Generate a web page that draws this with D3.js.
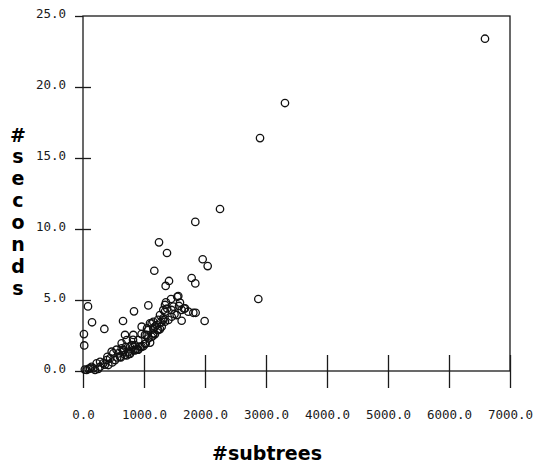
<!DOCTYPE html>
<html>
<head>
<meta charset="utf-8">
<script src="https://cdn.jsdelivr.net/npm/d3@7"></script>
<style>
  html, body { margin: 0; padding: 0; background: #fff; }
  svg { display: block; }
</style>
</head>
<body>
<script>
// x values (#subtrees) and y values (#seconds)
const subtrees = [
  6590, 3311, 2902, 2874, 2246, 1841, 1246, 1377, 1962, 2044, 1169, 1781, 1841, 1410, 1355,
  1994, 656, 836, 1071, 82, 148, 350, 1360, 20, 15,
  1546, 1443, 1562, 1590, 1481, 1344, 1574, 1656, 1672, 1617, 1726, 1536, 1454, 1344, 1317,
  1809, 1847, 1617, 1317, 1344, 1262, 1290, 1317, 1262, 1153, 1208, 1126, 1180, 1235, 1153,
  1098, 962, 1153, 1071, 1044, 1180, 1126, 1016, 1071, 989, 907, 852, 934, 1016, 960,
  825, 825, 825, 743, 770, 689, 716, 634, 661, 661, 852, 579, 607, 497, 443,
  525, 388, 333, 415, 279, 224, 170, 115, 60, 197, 470, 634, 689, 716, 770,
  798, 852, 905, 880, 280, 30, 90, 140, 250, 360, 560,
  400, 480, 550, 620, 700, 750, 820, 900, 960, 1030, 1100, 1150, 1220, 1270, 1400,
  1450, 1500, 1380, 1230, 1050
];
const seconds = [
  23.4, 18.87, 16.4, 5.07, 11.41, 10.5, 9.06, 8.31, 7.87, 7.39, 7.06, 6.55, 6.17, 6.34, 5.99,
  3.52, 3.52, 4.2, 4.62, 4.55, 3.43, 2.96, 4.84, 1.8, 2.6,
  5.23, 5.07, 5.28, 4.81, 4.53, 4.65, 4.58, 4.39, 4.41, 4.3, 4.18, 3.94, 3.82, 4.18, 4.3,
  4.1, 4.1, 3.54, 3.71, 3.47, 3.94, 3.12, 3.59, 2.95, 3.47, 3.24, 3.36, 3.12, 2.89, 3.0,
  3.36, 3.12, 2.65, 2.89, 2.54, 2.6, 2.4, 2.54, 2.3, 1.75, 2.18, 1.83, 1.71, 1.9, 1.7,
  2.54, 1.71, 1.48, 1.36, 1.71, 2.54, 2.18, 1.95, 1.48, 1.36, 1.45, 1.24, 1.0, 1.24, 0.89,
  0.77, 0.77, 0.54, 0.42, 0.3, 0.54, 0.19, 0.19, 0.07, 0.07, 1.36, 1.6, 1.13, 1.1, 1.2,
  1.83, 1.48, 1.5, 1.5, 0.65, 0.1, 0.15, 0.3, 0.15, 0.45, 0.95,
  1.0, 0.6, 1.5, 0.95, 1.7, 1.2, 2.2, 1.5, 2.6, 1.95, 2.0, 2.5, 2.9, 3.4, 3.6,
  4.3, 4.0, 4.4, 3.6, 3.0
];
const xTicks = [0, 1000, 2000, 3000, 4000, 5000, 6000, 7000];
const yTicks = [0, 5, 10, 15, 20, 25];
const xTitle = "#subtrees";
const yTitle = "#seconds";

const points = subtrees.map((v, i) => ({ x: v, y: seconds[i] }));

const width = 535;
const height = 468;
const plotLeft = 83, plotRight = 510, plotTop = 16, plotBottom = 371;
const ink = "#1a1a1a";
const tickFont = "'DejaVu Sans Mono', monospace";
const titleFont = "'DejaVu Sans', sans-serif";

const svg = d3.select("body")
    .append("svg")
    .attr("width", width)
    .attr("height", height);

svg.append("rect")
    .attr("width", width)
    .attr("height", height)
    .attr("fill", "#fff");

const x = d3.scaleLinear().domain([0, 7000]).range([plotLeft, plotRight]);
const y = d3.scaleLinear().domain([0, 25]).range([plotBottom, plotTop]);

// frame
svg.append("rect")
    .attr("x", plotLeft)
    .attr("y", plotTop)
    .attr("width", plotRight - plotLeft)
    .attr("height", plotBottom - plotTop)
    .attr("fill", "none")
    .attr("stroke", ink)
    .attr("stroke-width", 1.3);

// x axis: ticks go below, plus short stubs above
const xAxis = svg.append("g")
    .attr("transform", `translate(0,${plotBottom})`)
    .call(d3.axisBottom(x).tickValues(xTicks).tickSize(17).tickFormat(d3.format(".1f")));
svg.append("g")
    .attr("transform", `translate(0,${plotBottom})`)
    .call(d3.axisTop(x).tickValues(xTicks.slice(1)).tickSize(16).tickFormat(""));

// y axis: ticks cross the left line
const yAxis = svg.append("g")
    .attr("transform", `translate(${plotLeft},0)`)
    .call(d3.axisLeft(y).tickValues(yTicks).tickSize(8).tickFormat(d3.format(".1f")));
svg.append("g")
    .attr("transform", `translate(${plotLeft},0)`)
    .call(d3.axisRight(y).tickValues(yTicks.slice(1, -1)).tickSize(8).tickFormat(""));

svg.selectAll(".domain").remove();
svg.selectAll(".tick line").attr("stroke", ink).attr("stroke-width", 1.3);

xAxis.selectAll("text")
    .attr("y", 48)
    .attr("dy", null)
    .attr("fill", ink)
    .style("font-family", tickFont)
    .style("font-size", "12.5px");

yAxis.selectAll("text")
    .attr("x", -17)
    .attr("y", 1)
    .attr("dy", null)
    .attr("fill", ink)
    .style("font-family", tickFont)
    .style("font-size", "12.5px");

// titles
svg.append("text")
    .attr("x", 267)
    .attr("y", 460)
    .attr("text-anchor", "middle")
    .style("font-family", titleFont)
    .style("font-weight", "bold")
    .style("font-size", "19px")
    .attr("fill", "#000")
    .text(xTitle);

svg.append("g")
    .selectAll("text")
    .data(yTitle.split(""))
    .join("text")
    .attr("x", 18)
    .attr("y", (d, i) => i === 0 ? 142 : 163 + (i - 1) * 22)
    .attr("text-anchor", "middle")
    .style("font-family", titleFont)
    .style("font-weight", "bold")
    .style("font-size", "19px")
    .attr("fill", "#000")
    .text(d => d);

// points
svg.append("g")
    .selectAll("circle")
    .data(points)
    .join("circle")
    .attr("cx", d => x(d.x))
    .attr("cy", d => y(d.y))
    .attr("r", 3.7)
    .attr("fill", "none")
    .attr("stroke", "#111")
    .attr("stroke-width", 1.3);
</script>
</body>
</html>
